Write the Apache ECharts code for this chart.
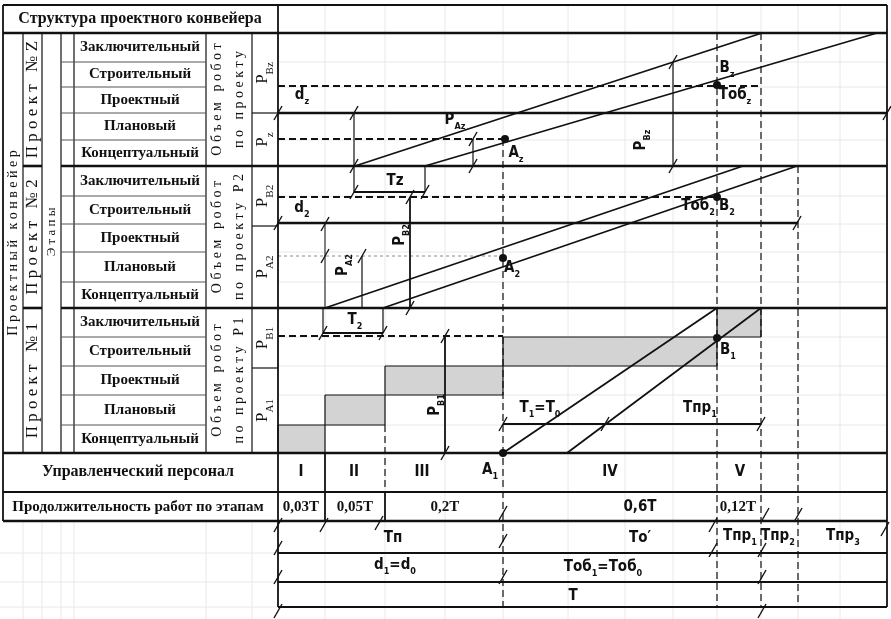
<!DOCTYPE html>
<html><head><meta charset="utf-8">
<script src="https://cdn.jsdelivr.net/npm/echarts@6/dist/echarts.min.js"></script>
<style>html,body{margin:0;padding:0;background:#fff}#c{width:891px;height:619px}</style>
</head><body><div id="c"></div>
<script>
// ===== DATA (t = time along the conveyor, v = work level) =====
const stageNames = ['Заключительный','Строительный','Проектный','Плановый','Концептуальный'];
const projectNames = ['Проект №Z','Проект №2','Проект №1'];
const volumeLine1 = 'Объем робот';
const volumeLine2 = ['по проекту','по проекту Р2','по проекту Р1'];
const levelLabels = [['{m|Р}{s|Вz}','{m|Р}{s|z}'],['{m|Р}{s|В2}','{m|Р}{s|А2}'],['{m|Р}{s|В1}','{m|Р}{s|А1}']];
const phaseNames = ['I','II','III','IV','V'];
const phaseLabelT = [23,76,144,332,462];
const phaseShares = ['0,03T','0,05T','0,2T','0,6T','0,12T'];
const phaseShareT = [23,77,167,362,460];
// key moments: start, end I, end II, A1, B1, end V, end Тпр2, right edge
const timeMarks = [0,47,107,225,439,483,520,609];
// stage row boundaries (15 rows, top -> bottom)
const rowLevels = [420,391,366,340,313,287,257,229,201,171,145,116,87,58,28,0];
// level cells of every project in the "P" column
const levelCells = [[420,340,287],[287,227,145],[145,85,0]];
// bottom table row boundaries
const tableLevels = [0,-39,-68,-100,-129,-154];
// left table column edges
const columnEdges = [-275,-255,-236,-217,-204,-72,-26,0];
// project 1 stage bars [tStart,tEnd,vLow,vHigh]
const stageBars = [[0,47,0,28],[47,107,28,58],[107,225,58,87],[225,439,87,116],[439,483,116,145]];
// progress lines of projects Z, 2, 1 [t1,v1,t2,v2]
const projectLines = [[77,287,484,420],[147,287,599,420],[47,145,465,287],[105,145,519,287],[225,0,439,145],[289,0,483,145]];
// key points A/B
const keyPoints = [[227,314],[439,368],[225,195],[439,256],[439,115],[225,0]];
// interval levels (d) and dimension values
const dLevels = {dz:340, d2:230, Bz:367, Az:314, B2:256, A2:197, B1:117};

// ===== build geometry lists from data =====
const LW = {thick:2.6, mid:1.8, thin:1.2, hair:1};
const solid = [];
const [tS,tI,tII,tA,tB,tV,tP2,tE] = timeMarks;
const [cL,c1,c2,c3,c4,c5,c6,c7] = columnEdges;
solid.push([cL,448,tE,448,'mid'],[cL,420,tE,420,'thick'],[cL,448,cL,-68,'mid'],[tS,448,tS,-154,'mid'],[tE,448,tE,-154,'mid']);
[c1,c2,c3,c4,c5,c6].forEach(c=>solid.push([c,420,c,0,'thin']));
[287,145].forEach(v=>{solid.push([c1,v,c2,v,'thick'],[c3,v,tE,v,'thick']);});
rowLevels.forEach((v,i)=>{ if(i>0&&i<15&&i!==5&&i!==10) solid.push([c3,v,c5,v,'hair','#555']); });
levelCells.forEach(cell=>solid.push([c6,cell[1],c7,cell[1],'thin']));
solid.push([cL,tableLevels[0],tE,tableLevels[0],'thick'],[cL,tableLevels[1],tE,tableLevels[1],'mid'],[cL,tableLevels[2],tE,tableLevels[2],'thick']);
[3,4,5].forEach(i=>solid.push([tS,tableLevels[i],tE,tableLevels[i],'mid']));
solid.push([tI,0,tI,-68,'mid'],[tII,-39,tII,-68,'mid']);
solid.push([tS,dLevels.dz,tE,dLevels.dz,'thick'],[tS,dLevels.d2,tP2,dLevels.d2,'thick']);
projectLines.forEach(l=>solid.push([l[0],l[1],l[2],l[3],'mid']));
solid.push([76,340,76,261,'thin'],[76,261,147,261,'mid'],[147,287,147,261,'thin']);
solid.push([45,145,45,120,'thin'],[45,120,105,120,'mid'],[105,145,105,120,'thin']);
solid.push([195,314,195,287,'thin'],[395,391,395,287,'thin']);
solid.push([47,229,47,145,'hair'],[84,197,84,145,'thin'],[132,256,132,145,'mid'],[167,117,167,0,'mid']);
solid.push([tA,29,tV,29,'mid']);
stageBars.forEach(b=>{solid.push([b[0],b[3],b[1],b[3],'thin'],[b[0],b[2],b[1],b[2],'thin'],[b[0],b[2],b[0],b[3],'thin'],[b[1],b[2],b[1],b[3],'thin']);});

const dashed = [
 [tS,dLevels.Bz,tV,dLevels.Bz,'mid'],[tS,dLevels.Az,227,dLevels.Az,'mid'],[tS,dLevels.B2,tB,dLevels.B2,'mid'],
 [tS,dLevels.B1,tA,dLevels.B1,'mid'],
 [tII,28,tII,-39,'thin'],[tA,314,tA,-154,'thin'],[tB,420,tB,-154,'thin'],[tV,420,tV,-154,'thin'],[tP2,287,tP2,-154,'thin']
];
const dotted = [[tS,dLevels.A2,tA,dLevels.A2,'hair','#888']];
const faint = [];
rowLevels.forEach(v=>faint.push([tS,v,tE,v,'hair']));
[47,107,167,225,290,347,395,439,483,520,562].forEach(t=>faint.push([t,448,t,-166,'hair']));
[c1,c2,c3,c4,c5,c6].forEach(c=>faint.push([c,-68,c,-166,'hair']));
[-100,-129,-154].forEach(v=>faint.push([-278,v,0,v,'hair']));

const ticks = [[0,340],[609,340],[0,230],[519,230],[76,340],[76,287],[76,261],[147,261],[45,120],[105,120],
 [195,314],[195,287],[395,391],[395,287],[47,229],[47,197],[84,197],[132,256],[132,145],[167,117],[167,0],
 [225,29],[483,29],[327,29],[0,-72],[46,-72],[101,-70],[225,-60],[435,-72],[487,-62],[520,-62],[607,-76],
 [0,-95],[225,-88],[435,-97],[484,-97],[0,-124],[225,-124],[484,-124],[0,-158],[484,-158]];

// ===== labels =====
const NARROW = "'Liberation Sans Narrow','DejaVu Sans Condensed','Liberation Sans',sans-serif";
const SERIF = "'Liberation Serif','DejaVu Serif',serif";
const textStyles = {
 hdr:{fontFamily:SERIF,fontSize:16,fontWeight:'bold'},
 stg:{fontFamily:SERIF,fontSize:15,fontWeight:'bold'},
 big:{fontFamily:SERIF,fontSize:17},
 conv:{fontFamily:SERIF,fontSize:14},
 vol:{fontFamily:SERIF,fontSize:14},
 sm:{fontFamily:SERIF,fontSize:13},
 pl:{fontFamily:SERIF,fontSize:17},
 nar:{fontFamily:NARROW,fontSize:15,fontWeight:'bold'},
 ser:{fontFamily:SERIF,fontSize:15,fontWeight:'bold'}
};
const spaced = s => s.split('').join(' ');
const labels = [];
labels.push([-138,434,'Структура проектного конвейера','hdr',0]);
for(let i=0;i<15;i++) labels.push([-138,(rowLevels[i]+rowLevels[i+1])/2,stageNames[i%5],'stg',0]);
projectNames.forEach((p,k)=>{
 const mid=(rowLevels[k*5]+rowLevels[k*5+5])/2;
 labels.push([-245,mid,spaced(p),'big',90]);
 labels.push([-61,mid,spaced(volumeLine1),'vol',90]);
 labels.push([-39,mid,spaced(volumeLine2[k]),'vol',90]);
 labels.push([-13,(levelCells[k][0]+levelCells[k][1])/2,levelLabels[k][0],'pl',90]);
 labels.push([-13,(levelCells[k][1]+levelCells[k][2])/2,levelLabels[k][1],'pl',90]);
});
labels.push([-265,210,spaced('Проектный конвейер'),'conv',90]);
labels.push([-226,221,spaced('Этапы'),'sm',90]);
labels.push([-140,-19,'Управленческий персонал','hdr',0]);
labels.push([-140,-54,'Продолжительность работ по этапам','stg',0]);
phaseNames.forEach((p,i)=>labels.push([phaseLabelT[i],-19,p,'nar',0]));
labels.push([212,-19,'{m|A}{s|1}','nar',0]);
phaseShares.forEach((p,i)=>labels.push([phaseShareT[i],-54,p,i===3?'nar':'ser',0]));
labels.push(
 [24,356,'{m|d}{s|z}','nar',0],[177,331,'{m|P}{s|Az}','nar',0],[238,298,'{m|A}{s|z}','nar',0],
 [117,272,'Tz','nar',0],[449,383,'{m|B}{s|z}','nar',0],[457,356,'{m|Тоб}{s|z}','nar',0],
 [365,313,'{m|P}{s|Bz}','nar',90],[24,243,'{m|d}{s|2}','nar',0],[124,218,'{m|P}{s|B2}','nar',90],
 [67,188,'{m|P}{s|A2}','nar',90],[234,183,'{m|A}{s|2}','nar',0],[420,245,'{m|Тоб}{s|2}','nar',0],
 [449,245,'{m|B}{s|2}','nar',0],[77,131,'{m|T}{s|2}','nar',0],[159,48,'{m|P}{s|B1}','nar',90],
 [262,43,'{m|T}{s|1}{m|=T}{s|0}','nar',0],[422,43,'{m|Тпр}{s|1}','nar',0],[450,101,'{m|B}{s|1}','nar',0],
 [115,-85,'Тп','nar',0],[362,-85,'То′','nar',0],[462,-85,'{m|Тпр}{s|1}','nar',0],
 [500,-85,'{m|Тпр}{s|2}','nar',0],[565,-85,'{m|Тпр}{s|3}','nar',0],
 [117,-114,'{m|d}{s|1}{m|=d}{s|0}','nar',0],[325,-116,'{m|Тоб}{s|1}{m|=Тоб}{s|0}','nar',0],[295,-143,'T','nar',0]
);

// ===== renderers =====
function lineRenderer(src,dash,color){
 return function(params,api){
  const d=src[params.dataIndex];
  const a=api.coord([d[0],d[1]]), b=api.coord([d[2],d[3]]);
  return {type:'line',silent:true,shape:{x1:a[0],y1:a[1],x2:b[0],y2:b[1]},
   style:{stroke:d[5]||color,lineWidth:LW[d[4]],lineDash:dash||null,fill:null}};
 };
}
function lineSeries(src,dash,color,z){
 return {type:'custom',coordinateSystem:'cartesian2d',renderItem:lineRenderer(src,dash,color),
  data:src.map(d=>[d[0],d[1],d[2],d[3]]),encode:{x:[0,2],y:[1,3]},silent:true,animation:false,z:z,clip:false};
}
const option = {
 animation:false,
 backgroundColor:'#fff',
 grid:{left:0,right:0,top:0,bottom:0},
 xAxis:{type:'value',min:-278,max:613,show:false},
 yAxis:{type:'value',min:-166,max:453,show:false},
 series:[
  lineSeries(faint,null,'#e8e8e8',1),
  {type:'custom',coordinateSystem:'cartesian2d',z:2,silent:true,animation:false,
   data:stageBars.map(b=>[b[0],b[2],b[1],b[3]]),encode:{x:[0,2],y:[1,3]},
   renderItem:function(params,api){
    const a=api.coord([api.value(0),api.value(3)]), b=api.coord([api.value(2),api.value(1)]);
    return {type:'rect',shape:{x:a[0],y:a[1],width:b[0]-a[0],height:b[1]-a[1]},style:{fill:'#d3d3d3'}};
   }},
  lineSeries(dotted,[3,3],'#888',3),
  lineSeries(dashed,[7,4],'#111',3),
  lineSeries(solid,null,'#111',4),
  {type:'custom',coordinateSystem:'cartesian2d',z:5,silent:true,animation:false,data:ticks,
   renderItem:function(params,api){
    const p=api.coord([api.value(0),api.value(1)]);
    return {type:'line',shape:{x1:p[0]-4,y1:p[1]+7,x2:p[0]+4,y2:p[1]-7},style:{stroke:'#111',lineWidth:1.4}};
   }},
  {type:'custom',coordinateSystem:'cartesian2d',z:6,silent:true,animation:false,data:keyPoints,
   renderItem:function(params,api){
    const p=api.coord([api.value(0),api.value(1)]);
    return {type:'circle',shape:{cx:p[0],cy:p[1],r:4},style:{fill:'#111'}};
   }},
  {type:'custom',coordinateSystem:'cartesian2d',z:7,silent:true,animation:false,
   data:labels.map(d=>[d[0],d[1]]),
   renderItem:function(params,api){
    const d=labels[params.dataIndex];
    const p=api.coord([d[0],d[1]]);
    const base=textStyles[d[3]];
    const rich={m:Object.assign({},base,{fill:'#111',verticalAlign:'top',padding:[0,0,4,0]}),
                s:Object.assign({},base,{fill:'#111',fontSize:Math.round(base.fontSize*0.62),verticalAlign:'bottom'})};
    return {type:'text',x:p[0],y:p[1],rotation:(d[4]||0)*Math.PI/180,
     style:Object.assign({text:d[2],fill:'#111',align:'center',verticalAlign:'middle',rich:rich},base)};
   }}
 ]
};
const chart = echarts.init(document.getElementById('c'));
chart.setOption(option);
</script>
</body></html>
